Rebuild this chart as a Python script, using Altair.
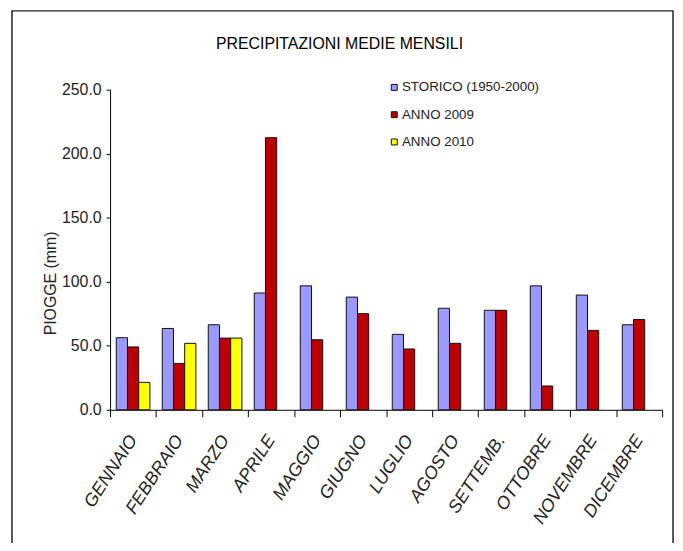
import altair as alt
import pandas as pd

months = ["GENNAIO", "FEBBRAIO", "MARZO", "APRILE", "MAGGIO", "GIUGNO",
          "LUGLIO", "AGOSTO", "SETTEMB.", "OTTOBRE", "NOVEMBRE", "DICEMBRE"]
series = ["STORICO (1950-2000)", "ANNO 2009", "ANNO 2010"]
storico = [56.3, 63.5, 66.4, 91.2, 96.8, 88.0, 58.9, 79.3, 77.7, 96.8, 89.6, 66.4]
anno2009 = [49.1, 36.2, 56.0, 212.5, 54.7, 75.1, 47.5, 51.9, 77.7, 18.6, 62.0, 70.5]
anno2010 = [21.4, 51.9, 56.0, None, None, None, None, None, None, None, None, None]
colors = ["#9999FF", "#C00000", "#FFFF00"]
y_ticks = [0, 50, 100, 150, 200, 250]

rows = []
for s, vals in zip(series, [storico, anno2009, anno2010]):
    for m, v in zip(months, vals):
        if v is not None:
            rows.append({"mese": m, "serie": s, "valore": v})
df = pd.DataFrame(rows)

ARIAL = "'Liberation Sans', Arial, sans-serif"

bars = alt.Chart(df).mark_bar(stroke="#111111", strokeWidth=1).encode(
    x=alt.X("mese:N", sort=months,
            scale=alt.Scale(paddingInner=0, paddingOuter=0),
            axis=alt.Axis(title=None, tickBand="extent", tickSize=7,
                          tickColor="black", domainColor="black",
                          labelAngle=-57, labelAlign="right", labelBaseline="middle",
                          labelPadding=20, labelFont=ARIAL, labelFontStyle="italic",
                          labelFontSize=18, labelColor="#222222")),
    xOffset=alt.XOffset("serie:N", sort=series,
                        scale=alt.Scale(domain=series, paddingInner=0, paddingOuter=0.55)),
    y=alt.Y("valore:Q", scale=alt.Scale(domain=[0, 250], nice=False),
            axis=alt.Axis(values=y_ticks, format=".1f", grid=False,
                          tickSize=4, tickColor="black", domainColor="black",
                          labelPadding=5, labelFont=ARIAL, labelFontSize=16,
                          labelColor="#222222",
                          title="PIOGGE (mm)", titleFont=ARIAL, titleFontSize=16,
                          titleFontWeight="normal", titleColor="#222222",
                          titleAngle=270, titleX=-52, titleY=195,
                          titleBaseline="bottom", titleAlign="center")),
    color=alt.Color("serie:N", sort=series,
                    scale=alt.Scale(domain=series, range=colors),
                    legend=alt.Legend(title=None, orient="none", legendX=280, legendY=-9,
                                      symbolType="square", symbolSize=36,
                                      symbolStrokeColor="#111111", symbolStrokeWidth=1,
                                      labelFont=ARIAL, labelFontSize=13.5,
                                      labelColor="#222222", rowPadding=12.5,
                                      labelOffset=1)),
)

border = alt.Chart(pd.DataFrame({"b": [0]})).mark_rect(
    fill=None, stroke="#222222", strokeWidth=1.5
).encode(
    x=alt.value(-99), x2=alt.value(568), y=alt.value(-79.5), y2=alt.value(470)
)

chart = alt.layer(border, bars).properties(
    width=557, height=323,
    title=alt.TitleParams("PRECIPITAZIONI MEDIE MENSILI", font=ARIAL, fontSize=16,
                          fontWeight="normal", color="black", anchor="middle",
                          frame="group", dx=-47, baseline="alphabetic", offset=-55),
    autosize=alt.AutoSizeParams(type="none"),
    padding={"left": 103, "top": 80, "right": 13, "bottom": 132},
).configure_view(stroke=None)

chart.save("out.html", embed_options={"renderer": "svg", "actions": False})
